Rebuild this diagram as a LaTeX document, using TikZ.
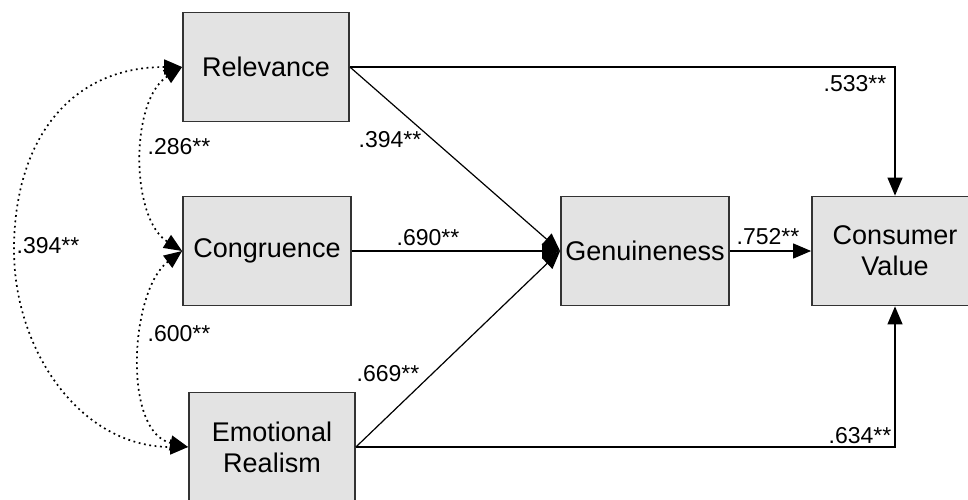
\documentclass[tikz,border=0pt]{standalone}
\usepackage{fontspec}
\setmainfont{Liberation Sans}
\usetikzlibrary{arrows.meta}
\begin{document}
\begin{tikzpicture}[x=1pt,y=-1pt,
  box/.style={draw=black!80, line width=1.8pt, fill=black!11, minimum width=166pt, minimum height=109pt, inner sep=0pt, align=center, font=\fontsize{27}{31}\selectfont},
  lbl/.style={inner sep=0pt, font=\fontsize{23}{26}\selectfont},
  arr/.style={line width=1.2pt, -{Triangle[length=18pt,width=15pt]}},
  corr/.style={line width=1.7pt, dash pattern=on 1.8pt off 3.6pt, {Triangle[length=18pt,width=15pt]}-{Triangle[length=18pt,width=15pt]}}
]
\useasboundingbox (0,0) rectangle (968,500);
\clip (0,0) rectangle (968,500);
\node[box] (rel) at (266,67) {Relevance};
\node[box, minimum width=168pt] (con) at (267,251) {Congruence};
\node[box] (er) at (272,447) {Emotional\\Realism};
\node[box, minimum width=168pt] (gen) at (645,251) {Genuineness};
\node[box] (cv) at (895,251) {Consumer\\Value};
% paths
\draw[arr] (rel.east) -| (cv.north);
\draw[arr] (er.east) -| (cv.south);
\draw[arr] (rel.east) -- (gen.west);
\draw[arr] (con.east) -- (gen.west);
\draw[arr] (er.east) -- (gen.west);
\draw[arr] (gen.east) -- (cv.west);
% correlations
\draw[corr] (rel.west) .. controls (130,100) and (130,218) .. (con.west);
\draw[corr] (con.west) .. controls (130,290) and (122,432) .. (er.west);
\draw[corr] (rel.west) .. controls (70,67) and (14,140) .. (14,250) .. controls (14,350) and (80,447) .. (er.west);
% labels
\node[lbl] (l1) at (855,84) {.533**};
\node[lbl] (l2) at (390,140) {.394**};
\node[lbl] (l3) at (428,238) {.690**};
\node[lbl] (l4) at (388,374) {.669**};
\node[lbl] (l5) at (860,436) {.634**};
\node[lbl] (l6) at (768,237) {.752**};
\node[lbl] (l7) at (179,147) {.286**};
\node[lbl] (l8) at (179,334) {.600**};
\node[lbl] (l9) at (48,246) {.394**};
\end{tikzpicture}
\end{document}
